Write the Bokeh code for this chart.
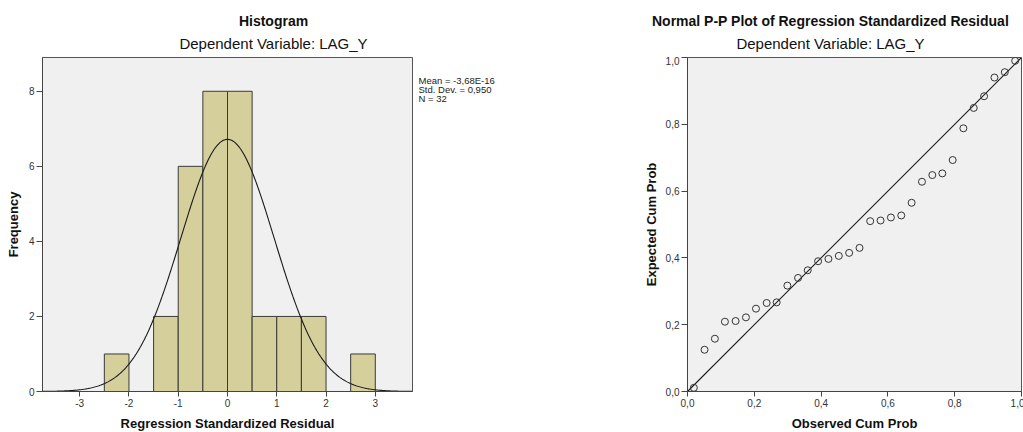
import numpy as np
from bokeh.plotting import figure
from bokeh.layouts import row, column
from bokeh.models import FixedTicker, CustomJSTickFormatter, Range1d
from bokeh.core.properties import value
from bokeh.embed import file_html
from bokeh.resources import INLINE

# ---------------- data ----------------
# Histogram of regression standardized residuals
bin_left = [-2.5, -1.5, -1.0, -0.5, 0.0, 0.5, 1.0, 1.5, 2.5]
bin_width = 0.5
bin_count = [1, 2, 6, 8, 8, 2, 2, 2, 1]
mean_val = -3.68e-16
std_dev = 0.950
n_obs = 32
stats_lines = ["Mean = -3,68E-16", "Std. Dev. = 0,950", "N = 32"]
hist_xticks = [-3, -2, -1, 0, 1, 2, 3]
hist_yticks = [0, 2, 4, 6, 8]

# Normal P-P plot
observed_cum = [0.019, 0.051, 0.082, 0.112, 0.144, 0.175, 0.205, 0.237,
                0.267, 0.299, 0.331, 0.360, 0.391, 0.422, 0.453, 0.484,
                0.515, 0.547, 0.578, 0.609, 0.640, 0.671, 0.702, 0.733,
                0.763, 0.794, 0.826, 0.857, 0.888, 0.919, 0.950, 0.981]
expected_cum = [0.011, 0.125, 0.158, 0.209, 0.211, 0.222, 0.248, 0.265,
                0.267, 0.317, 0.340, 0.363, 0.390, 0.397, 0.406, 0.415,
                0.430, 0.510, 0.512, 0.521, 0.527, 0.565, 0.628, 0.648,
                0.653, 0.693, 0.788, 0.849, 0.884, 0.940, 0.956, 0.990]
pp_ticks = [0.0, 0.2, 0.4, 0.6, 0.8, 1.0]

titles = ["Histogram", "Normal P-P Plot of Regression Standardized Residual"]
subtitle = "Dependent Variable: LAG_Y"

FONT = "Liberation Sans"
FRAME_BG = "#F0F0F0"
DARK = "#3A3A3A"
TOTAL_W = 1023
HEADER_H = 56
FRAME_H = 334
BORDER_TOP = 1
BORDER_BOTTOM = 41
MAIN_H = BORDER_TOP + FRAME_H + BORDER_BOTTOM


def blank_fig(w, h):
    f = figure(width=w, height=h, x_range=Range1d(0, w), y_range=Range1d(0, h),
               x_axis_location=None, y_axis_location=None,
               output_backend="svg", toolbar_location=None,
               min_border=0, min_border_left=0, min_border_right=0,
               min_border_top=0, min_border_bottom=0)
    f.grid.visible = False
    f.outline_line_color = None
    f.background_fill_color = "white"
    f.border_fill_color = "white"
    return f


def style_axes(p):
    for ax in list(p.xaxis) + list(p.yaxis):
        ax.major_tick_in = 0
        ax.major_tick_out = 6
        ax.minor_tick_in = 0
        ax.minor_tick_out = 0
        ax.major_label_standoff = 2
        ax.major_label_text_font = FONT
        ax.major_label_text_font_size = "10px"
        ax.major_label_text_color = "#333333"
        ax.axis_label_text_font = FONT
        ax.axis_label_text_font_size = "13px"
        ax.axis_label_text_font_style = "bold"
        ax.axis_label_text_color = "#111111"
        ax.axis_line_color = "#444444"
        ax.major_tick_line_color = "#444444"
    p.xaxis.major_tick_out = 5
    p.xaxis.axis_label_standoff = 6
    p.grid.visible = False
    p.outline_line_color = "#555555"
    p.background_fill_color = FRAME_BG
    p.border_fill_color = "white"


# ---------------- header with titles ----------------
header = blank_fig(TOTAL_W, HEADER_H)
header.text(x=[273, 830], y=[36, 36], text=titles, text_font=value(FONT),
            text_font_size="14px", text_font_style="bold", text_color="#111111",
            text_align="center", text_baseline="middle")
header.text(x=[273, 830], y=[13, 13], text=[subtitle, subtitle], text_font=value(FONT),
            text_font_size="15px", text_color="#111111",
            text_align="center", text_baseline="middle")

# ---------------- histogram ----------------
h = figure(frame_width=370, frame_height=FRAME_H,
           x_range=Range1d(-3.755, 3.755), y_range=Range1d(0, 8.9),
           output_backend="svg", toolbar_location=None,
           min_border_left=42, min_border_right=4,
           min_border_top=BORDER_TOP, min_border_bottom=BORDER_BOTTOM)
style_axes(h)
h.xaxis.ticker = FixedTicker(ticks=hist_xticks)
h.yaxis.ticker = FixedTicker(ticks=hist_yticks)
int_fmt = CustomJSTickFormatter(code="return tick.toFixed(0);")
h.xaxis.formatter = int_fmt
h.yaxis.formatter = int_fmt
h.xaxis.axis_label = "Regression Standardized Residual"
h.yaxis.axis_label = "Frequency"
h.yaxis.axis_label_standoff = 5

bin_right = [b + bin_width for b in bin_left]
h.quad(left=bin_left, right=bin_right, bottom=0, top=bin_count,
       fill_color="#D4CF9B", line_color=DARK, line_width=1)

xs = np.linspace(-3.755, 3.755, 400)
ys = n_obs * bin_width / (std_dev * np.sqrt(2 * np.pi)) * np.exp(-0.5 * ((xs - mean_val) / std_dev) ** 2)
h.line(xs, ys, line_color="#1A1A1A", line_width=1.1)

# ---------------- statistics text beside the histogram ----------------
STATS_W = 224
stats = blank_fig(STATS_W, MAIN_H)
stats.text(x=[2, 2, 2], y=[MAIN_H - 20, MAIN_H - 30, MAIN_H - 40], text=stats_lines,
           text_font=value(FONT), text_font_size="9.5px", text_color="#222222",
           text_align="left", text_baseline="top")

# ---------------- P-P plot ----------------
pp = figure(frame_width=334, frame_height=FRAME_H,
            x_range=Range1d(0, 1), y_range=Range1d(0, 1),
            output_backend="svg", toolbar_location=None,
            min_border_left=46, min_border_right=3,
            min_border_top=BORDER_TOP, min_border_bottom=BORDER_BOTTOM)
style_axes(pp)
pp.xaxis.ticker = FixedTicker(ticks=pp_ticks)
pp.yaxis.ticker = FixedTicker(ticks=pp_ticks)
fmt = CustomJSTickFormatter(code="return tick.toFixed(1).replace('.', ',');")
pp.xaxis.formatter = fmt
pp.yaxis.formatter = fmt
pp.xaxis.axis_label = "Observed Cum Prob"
pp.yaxis.axis_label = "Expected Cum Prob"
pp.yaxis.axis_label_standoff = 4

pp.line([pp_ticks[0], pp_ticks[-1]], [pp_ticks[0], pp_ticks[-1]], line_color="#1A1A1A", line_width=1.1)
pp.scatter(observed_cum, expected_cum, marker="circle", size=7, fill_color=None,
           line_color="#333333", line_width=1)

layout = column(header, row(h, stats, pp))
open("out.html", "w").write(file_html(layout, INLINE))
